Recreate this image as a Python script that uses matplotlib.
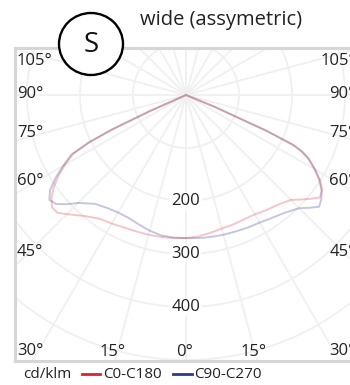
import numpy as np
import matplotlib
matplotlib.use('Agg')
import matplotlib.pyplot as plt
from matplotlib.patches import Circle, Ellipse

plt.rcParams['font.family'] = ['Open Sans', 'DejaVu Sans']

# 光度曲線 (cd/klm), 角度自正下方起算
angles = [0, 5, 10, 15, 20, 25, 30, 35, 40, 45, 47.5, 50, 52.5, 55, 57.5, 60, 62.5, 64, 65, 66, 67.5, 70, 80, 90]
c0 = [270, 268, 264, 261, 260, 259, 260, 265, 270, 280, 292, 305, 318, 314, 300, 282, 262, 245, 225, 170, 60, 0, 0, 0]
c180 = [270, 271, 272, 273, 274, 276, 280, 285, 298, 318, 329, 330, 320, 305, 286, 264, 240, 200, 150, 70, 0, 0, 0, 0]
c90 = [270, 271, 272, 273, 274, 276, 278, 283, 290, 302, 315, 328, 322, 312, 298, 280, 260, 242, 222, 165, 60, 0, 0, 0]
c270 = [270, 270, 269, 265, 260, 256, 256, 260, 268, 288, 305, 320, 325, 313, 292, 268, 244, 205, 155, 75, 0, 0, 0, 0]

rings = [100, 200, 300, 400, 500, 600, 700, 800]
ring_labels = [200, 300, 400]
spokes = np.arange(0, 360, 15)

left_ticks = ['105°', '90°', '75°', '60°', '45°', '30°']
left_tick_y = [61, 94, 133, 181, 252, 351]
bottom_ticks = ['15°', '0°', '15°']
bottom_tick_x = [113, 185, 254]
right_ticks = ['105°', '90°', '75°', '60°', '45°', '30°']

W, H = 350, 385
fig = plt.figure(figsize=(W / 100, H / 100), dpi=100)

# 圖框像素位置 (中心 186,95; 0.53 px/cd)
cx, cy, scale = 186, 95, 0.53
x0, x1, y0, y1 = 15, 357, 48, 361
ax = fig.add_axes([x0 / W, 1 - y1 / H, (x1 - x0) / W, (y1 - y0) / H])
ax.set_xlim((x0 - cx) / scale, (x1 - cx) / scale)
ax.set_ylim(-(y1 - cy) / scale, (cy - y0) / scale)
ax.set_xticks([])
ax.set_yticks([])
for s in ax.spines.values():
    s.set_color('#d6d6d6')
    s.set_linewidth(2.2)

grid_c = '#f0f0f0'
for r in rings:
    ax.add_patch(Circle((0, 0), r, fill=False, ec=grid_c, lw=1.3, zorder=1))
for a in spokes:
    t = np.radians(a)
    ax.plot([0, 900 * np.sin(t)], [0, -900 * np.cos(t)], color=grid_c, lw=1.3, zorder=1)


def curve(left_vals, right_vals):
    th = np.radians(np.array(angles))
    lv = np.array(left_vals, dtype=float)
    rv = np.array(right_vals, dtype=float)
    xs = np.concatenate([-lv[::-1] * np.sin(th[::-1]), rv * np.sin(th)])
    ys = np.concatenate([-lv[::-1] * np.cos(th[::-1]), -rv * np.cos(th)])
    return xs, ys


red = '#d9232e'
blue = '#2b3a8f'
xs, ys = curve(c270, c90)
ax.plot(xs, ys, color=blue, alpha=0.28, lw=1.4, zorder=3)
xs, ys = curve(c180, c0)
ax.plot(xs, ys, color=red, alpha=0.26, lw=1.4, zorder=3)

for v in ring_labels:
    ax.text(0, -v, str(v), ha='center', va='center', fontsize=12, color='#222222',
            zorder=4, bbox=dict(fc='white', ec='none', pad=1.0, alpha=0.85))

# 角度標籤
for lab, y in zip(left_ticks, left_tick_y):
    fig.text(17 / W, 1 - y / H, lab, ha='left', va='center', fontsize=12, color='#222222')
for lab, y in zip(right_ticks, left_tick_y):
    fig.text(356 / W, 1 - y / H, lab, ha='right', va='center', fontsize=12, color='#222222')
for lab, x in zip(bottom_ticks, bottom_tick_x):
    fig.text(x / W, 1 - 352 / H, lab, ha='center', va='center', fontsize=12, color='#222222')

# 標題
fig.text(221 / W, 1 - 20 / H, 'wide (assymetric)', ha='center', va='center', fontsize=14.5, color='#222222')

# S 圈
circ = Ellipse((91 / W, 1 - 44 / H), 64 / W, 62 / H, transform=fig.transFigure,
               fc='white', ec='black', lw=1.7, zorder=10)
fig.add_artist(circ)
fig.text(91 / W, 1 - 45 / H, 'S', ha='center', va='center', fontsize=20, color='#111111', zorder=11)

# 圖例
ly = 1 - 374 / H
fig.text(23 / W, ly, 'cd/klm', ha='left', va='center', fontsize=11, color='#222222')
fig.add_artist(plt.Line2D([82 / W, 100 / W], [ly, ly], color=red, lw=2, transform=fig.transFigure))
fig.text(103 / W, ly, 'C0-C180', ha='left', va='center', fontsize=11, color='#222222')
fig.add_artist(plt.Line2D([173 / W, 192 / W], [ly, ly], color=blue, lw=2, transform=fig.transFigure))
fig.text(194 / W, ly, 'C90-C270', ha='left', va='center', fontsize=11, color='#222222')

fig.savefig('out.png', dpi=100)
